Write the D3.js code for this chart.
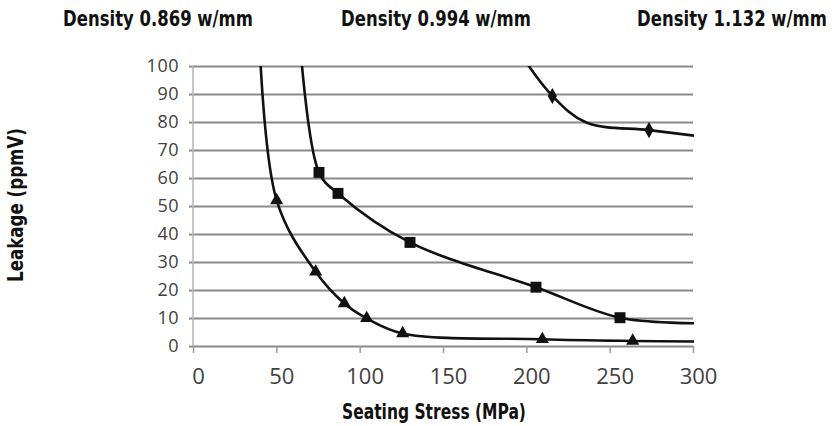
<!DOCTYPE html>
<html>
<head>
<meta charset="utf-8">
<script src="https://cdn.jsdelivr.net/npm/d3@7"></script>
<style>
  body { margin: 0; background: #ffffff; }
  svg { display: block; }
</style>
</head>
<body>
<div id="chart"></div>
<script>
'use strict'

// ---- data ----
const titles = ['Density 0.869 w/mm', 'Density 0.994 w/mm', 'Density 1.132 w/mm']

// density 0.869 (triangles); first/last points sit outside the plot
const stress869 = [38.5, 50.2, 73.6, 90.8, 104.2, 125.8, 209.6, 263.8, 305]
const leak869 = [130, 52, 26.5, 15.2, 9.9, 4.5, 2.4, 1.8, 1.6]
const marked869 = [0, 1, 1, 1, 1, 1, 1, 1, 0]

// density 0.994 (squares)
const stress994 = [61.5, 75.6, 87, 130.2, 205.8, 256.2, 305]
const leak994 = [130, 62, 54.5, 37, 21, 10.1, 8.1]
const marked994 = [0, 1, 1, 1, 1, 1, 0]

// density 1.132 (diamonds)
const stress1132 = [188, 215.6, 236, 273.6, 305]
const leak1132 = [112, 89.3, 79.8, 77.1, 74.8]
const marked1132 = [0, 1, 0, 1, 0]

const xTicks = [0, 50, 100, 150, 200, 250, 300]
const yTicks = [0, 10, 20, 30, 40, 50, 60, 70, 80, 90, 100]

////////////////////////////////////
//////////// svg setup /////////////
////////////////////////////////////
const svgWidth = 834
const svgHeight = 426
const margin = { left: 193, right: 141, top: 66, bottom: 80 }
const width = svgWidth - margin.left - margin.right
const height = svgHeight - margin.top - margin.bottom

const root = d3.select('#chart')
    .append('svg')
    .attr('width', svgWidth)
    .attr('height', svgHeight)

const svg = root.append('g')
    .attr('transform', `translate(${margin.left},${margin.top})`)

const x = d3.scaleLinear().domain([0, 300]).range([0, width])
const y = d3.scaleLinear().domain([0, 100]).range([height, 0])

////////////////////////////////////
//////////// axes //////////////////
////////////////////////////////////
const yAxis = d3.axisLeft(y)
    .tickValues(yTicks)
    .tickSize(-width - 4)
    .tickPadding(10)

svg.append('g')
    .attr('class', 'y-axis')
    .attr('transform', 'translate(-4,0)')
    .call(yAxis)
    .call(g => g.select('.domain').remove())
    .call(g => g.selectAll('line')
        .attr('stroke', '#8a8a8a')
        .attr('stroke-width', 2))
    .call(g => g.selectAll('text')
        .attr('fill', '#404040')
        .attr('font-family', '"Open Sans", sans-serif')
        .attr('font-size', '18px')
        .attr('letter-spacing', '0.5px'))

// vertical axis line
svg.append('line')
    .attr('x1', 0).attr('x2', 0)
    .attr('y1', 0).attr('y2', height)
    .attr('stroke', '#b5b5b5')
    .attr('stroke-width', 1.5)

const xAxis = d3.axisBottom(x)
    .tickValues(xTicks)
    .tickSize(7)
    .tickPadding(15)

svg.append('g')
    .attr('class', 'x-axis')
    .attr('transform', `translate(0,${height})`)
    .call(xAxis)
    .call(g => g.select('.domain').remove())
    .call(g => g.selectAll('line')
        .attr('stroke', '#9a9a9a')
        .attr('stroke-width', 1.5))
    .call(g => g.selectAll('text')
        .attr('x', 5)
        .attr('fill', '#404040')
        .attr('font-family', '"Open Sans", sans-serif')
        .attr('font-size', '22px'))

////////////////////////////////////
//////////// lines /////////////////
////////////////////////////////////
svg.append('clipPath')
    .attr('id', 'plot-clip')
    .append('rect')
    .attr('x', 0)
    .attr('y', 0)
    .attr('width', width + 1)
    .attr('height', height)

const series = [
    { xs: stress869, ys: leak869, marks: marked869, symbol: d3.symbolTriangle, size: 75 },
    { xs: stress994, ys: leak994, marks: marked994, symbol: d3.symbolSquare, size: 120 },
    { xs: stress1132, ys: leak1132, marks: marked1132, symbol: d3.symbolDiamond, size: 75 }
]

const line = d3.line()
    .x(d => x(d[0]))
    .y(d => y(d[1]))
    .curve(d3.curveCatmullRom.alpha(0.5))

series.forEach(s => {
    const pts = s.xs.map((v, i) => [v, s.ys[i], s.marks[i]])

    svg.append('path')
        .datum(pts)
        .attr('clip-path', 'url(#plot-clip)')
        .attr('fill', 'none')
        .attr('stroke', '#111111')
        .attr('stroke-width', 2.6)
        .attr('d', line)

    svg.selectAll(null)
        .data(pts.filter(p => p[2] === 1))
        .enter()
        .append('path')
        .attr('transform', d => `translate(${x(d[0])},${y(d[1])})`)
        .attr('d', d3.symbol().type(s.symbol).size(s.size))
        .attr('fill', '#111111')
})

////////////////////////////////////
//////////// titles ////////////////
////////////////////////////////////
// condensed bold look: draw at full size, then squeeze horizontally to the wanted width
const boldFont = '"DejaVu Sans Condensed", "DejaVu Sans", sans-serif'

function squeezedText(label, px, py, targetWidth, rotate) {
    const t = root.append('text')
        .attr('font-family', boldFont)
        .attr('font-weight', 'bold')
        .attr('font-size', '22px')
        .attr('fill', '#111111')
        .attr('text-anchor', 'middle')
        .text(label)
    const natural = t.node().getComputedTextLength()
    const sx = targetWidth / natural
    t.attr('transform', `translate(${px},${py})` + (rotate ? ' rotate(-90)' : '') + ` scale(${sx},1)`)
    return t
}

const titleCenter = [158, 436, 732]
titles.forEach((d, i) => squeezedText(d, titleCenter[i], 26, 190, false))

squeezedText('Seating Stress (MPa)', 434, 419, 184, false)
squeezedText('Leakage (ppmV)', 23, 205, 154, true)
</script>
</body>
</html>
